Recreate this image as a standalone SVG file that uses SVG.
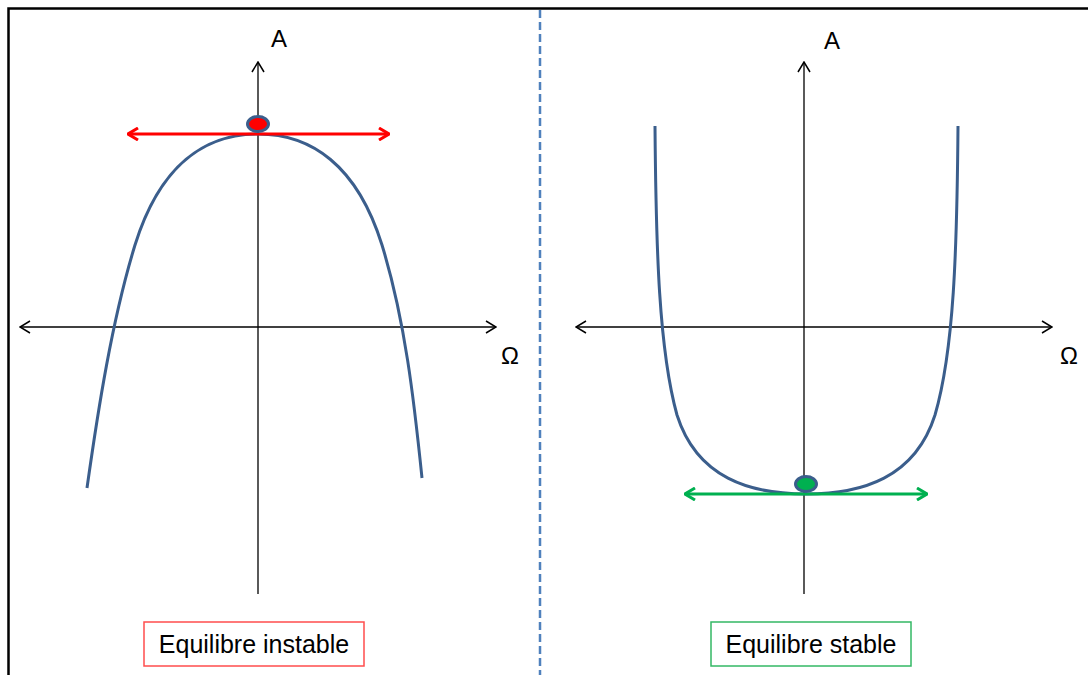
<svg xmlns="http://www.w3.org/2000/svg" width="1088" height="675" viewBox="0 0 1088 675">
<style>
.axis{stroke:#000;stroke-width:1.3;fill:none}
.curve{stroke:#3B5E8C;stroke-width:3;fill:none}
.lbl{font-family:"Liberation Sans",Arial,sans-serif;font-size:24px;fill:#000}
.box{fill:#fff;stroke-width:1.5}
.btxt{font-family:"Liberation Sans",Arial,sans-serif;font-size:25px;fill:#000;text-anchor:middle}
</style>
<defs>
<marker id="ab" viewBox="0 0 12 14" refX="11" refY="7" markerWidth="12" markerHeight="14" markerUnits="userSpaceOnUse" orient="auto-start-reverse">
<path d="M1,1 L11,7 L1,13" fill="none" stroke="#000" stroke-width="1.5"/>
</marker>
<marker id="ar" viewBox="0 0 12 14" refX="11" refY="7" markerWidth="12" markerHeight="14" markerUnits="userSpaceOnUse" orient="auto-start-reverse">
<path d="M1,1 L11,7 L1,13" fill="none" stroke="#FF0000" stroke-width="3"/>
</marker>
<marker id="ag" viewBox="0 0 12 14" refX="11" refY="7" markerWidth="12" markerHeight="14" markerUnits="userSpaceOnUse" orient="auto-start-reverse">
<path d="M1,1 L11,7 L1,13" fill="none" stroke="#00B050" stroke-width="3"/>
</marker>
</defs>
<rect width="1088" height="675" fill="#fff"/>
<path d="M8.5,675 L8.5,8.5 L1088,8.5" fill="none" stroke="#000" stroke-width="2.5"/>
<line x1="540" y1="10" x2="540" y2="675" stroke="#4F81BD" stroke-width="2.5" stroke-dasharray="8,4"/>
<g id="connectors">
<line class="axis" x1="258" y1="594" x2="258" y2="62" marker-end="url(#ab)"/>
<line class="axis" x1="20" y1="327" x2="496" y2="327" marker-start="url(#ab)" marker-end="url(#ab)"/>
<line class="axis" x1="804" y1="594" x2="804" y2="62" marker-end="url(#ab)"/>
<line class="axis" x1="576" y1="327" x2="1052" y2="327" marker-start="url(#ab)" marker-end="url(#ab)"/>
</g>
<g id="curve-instable">
<path class="curve" d="M87,488 C98,410 112,320 135,245 C160,165 205,134 258,134 C311,134 357,165 382,245 C405,320 414,400 422,478"/>
</g>
<g id="curve-stable">
<path class="curve" d="M655,126 C656,250 659,350 677,415 C697,478 750,494 806,494 C862,494 915,478 935,415 C954,350 957,250 958,126"/>
</g>
<g id="red-arrow">
<line x1="128" y1="134" x2="389" y2="134" stroke="#FF0000" stroke-width="3" marker-start="url(#ar)" marker-end="url(#ar)"/>
<ellipse cx="258" cy="124" rx="10.5" ry="7.5" fill="#FF0000" stroke="#3B5E8C" stroke-width="3"/>
</g>
<g id="green-arrow">
<line x1="685" y1="494" x2="927" y2="494" stroke="#00B050" stroke-width="3" marker-start="url(#ag)" marker-end="url(#ag)"/>
<ellipse cx="806" cy="484" rx="10.5" ry="7.5" fill="#00B050" stroke="#3B5E8C" stroke-width="3"/>
</g>
<g id="labels">
<text class="lbl" x="271" y="47">A</text>
<text class="lbl" x="501" y="364">Ω</text>
<text class="lbl" x="824" y="49">A</text>
<text class="lbl" x="1060" y="364">Ω</text>
</g>
<g id="box-instable">
<rect class="box" x="144" y="622" width="220" height="44" stroke="#FF4D4D"/>
<text class="btxt" x="254" y="653">Equilibre instable</text>
</g>
<g id="box-stable">
<rect class="box" x="711" y="622" width="200" height="44" stroke="#33B864"/>
<text class="btxt" x="811" y="653">Equilibre stable</text>
</g>
</svg>
